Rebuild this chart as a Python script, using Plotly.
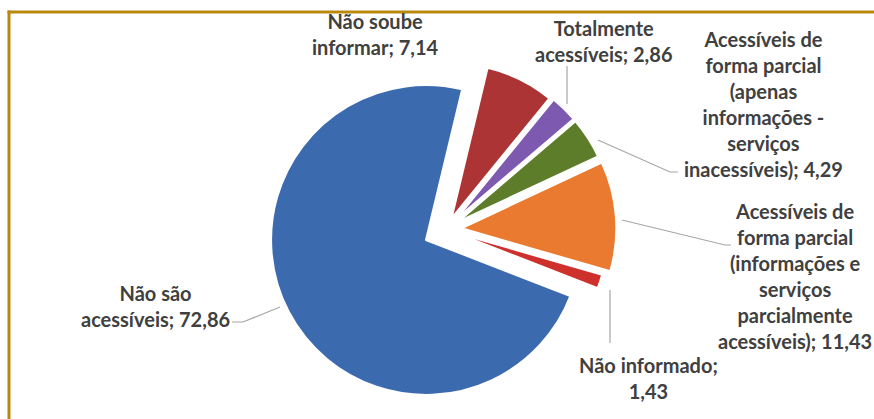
import plotly.graph_objects as go

# Situação de acessibilidade dos portais (%)
categorias = [
    "Não soube informar",
    "Totalmente acessíveis",
    "Acessíveis de forma parcial (apenas informações - serviços inacessíveis)",
    "Acessíveis de forma parcial (informações e serviços parcialmente acessíveis)",
    "Não informado",
    "Não são acessíveis",
]
valores = [7.14, 2.86, 4.29, 11.43, 1.43, 72.86]
rotulos = [
    "Não soube<br>informar; 7,14",
    "Totalmente<br>acessíveis; 2,86",
    "Acessíveis de<br>forma parcial<br>(apenas<br>informações -<br>serviços<br>inacessíveis); 4,29",
    "Acessíveis de<br>forma parcial<br>(informações e<br>serviços<br>parcialmente<br>acessíveis); 11,43",
    "Não informado;<br>1,43",
    "Não são<br>acessíveis; 72,86",
]
cores = ["#AC3434", "#7D59B0", "#5D7D2B", "#EA7A30", "#CE302B", "#3C6AAE"]
destaque = [0.08, 0.09, 0.09, 0.10, 0.05, 0.146]

W, H = 874, 419


def px(x):
    return x / W


def py(y):
    return 1 - y / H


fig = go.Figure(
    go.Pie(
        labels=categorias,
        values=valores,
        sort=False,
        direction="clockwise",
        rotation=13.5,
        pull=destaque,
        textinfo="none",
        hoverinfo="skip",
        marker=dict(colors=cores, line=dict(color="#FFFFFF", width=2)),
        domain=dict(x=[px(268.5), px(623.5)], y=[py(407), py(52)]),
        showlegend=False,
    )
)

# posições dos rótulos (centro do bloco de texto, em pixels)
pos_rotulos = [(375, 34), (604, 41), (763, 104), (795, 276), (648, 378), (155, 306)]
for texto, (x, y) in zip(rotulos, pos_rotulos):
    fig.add_annotation(
        x=px(x), y=py(y), xref="paper", yref="paper",
        text=texto, showarrow=False, xanchor="center", yanchor="middle",
        align="center",
        font=dict(family="Lato", size=20, color="#404040", weight="bold"),
    )

# linhas de chamada
chamadas = [
    [(567, 66), (567, 104)],
    [(598, 140), (670, 172), (678, 172)],
    [(622, 220), (725, 245), (731, 245)],
    [(610, 290), (610, 343)],
    [(280, 307), (243, 322), (232, 322)],
]
for pts in chamadas:
    caminho = "M " + " L ".join(f"{px(x):.5f},{py(y):.5f}" for x, y in pts)
    fig.add_shape(type="path", path=caminho, xref="paper", yref="paper",
                  line=dict(color="#A6A6A6", width=1.2))

# moldura (lateral esquerda e topo); o topo segue além da borda da página
borda = "#B8890C"
fig.add_shape(type="rect", xref="paper", yref="paper",
              x0=px(7.5), x1=px(10.5), y0=-0.1, y1=py(10.5),
              fillcolor=borda, line=dict(width=0))
fig.add_shape(type="rect", xref="paper", yref="paper",
              x0=px(7.5), x1=1.15, y0=py(13.5), y1=py(10.5),
              fillcolor=borda, line=dict(width=0))

fig.update_layout(
    width=W, height=H,
    margin=dict(l=0, r=0, t=0, b=0),
    paper_bgcolor="#FFFFFF",
    plot_bgcolor="#FFFFFF",
)

fig.write_html("out.html", config={"displayModeBar": False})
